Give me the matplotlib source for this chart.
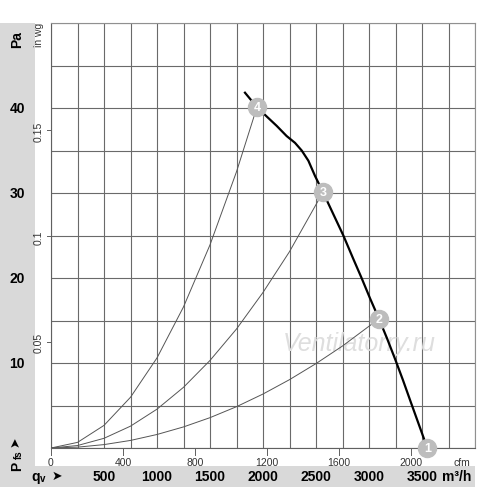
import matplotlib
matplotlib.use("Agg")
import matplotlib.pyplot as plt
from matplotlib.patches import Rectangle

# Kennlinie (q in m3/h, p in Pa)
FAN_Q = [1830, 1943, 2035, 2129, 2223, 2302, 2365, 2428, 2491, 2566,
         2660, 2758, 2850, 2930, 3010, 3094, 3170, 3245, 3320, 3400, 3475, 3550]
FAN_P = [41.8, 40.1, 39.0, 37.9, 36.7, 35.9, 35.0, 33.8, 32.0, 30.1,
         27.6, 25.0, 22.3, 20.0, 17.6, 15.2, 12.9, 10.5, 8.0, 5.2, 2.6, 0.0]

# Betriebspunkte 1..4
OP_LABELS = ["1", "2", "3", "4"]
OP_Q = [3550, 3094, 2566, 1943]
OP_P = [0.0, 15.2, 30.1, 40.1]

# Anlagenkennlinien durch die Punkte 4, 3, 2
SYS4_Q = [0, 250, 500, 750, 1000, 1250, 1500, 1750, 1943]
SYS4_P = [0, 0.66, 2.66, 5.97, 10.6, 16.6, 23.9, 32.5, 40.1]
SYS3_Q = [0, 250, 500, 750, 1000, 1250, 1500, 1750, 2000, 2250, 2566]
SYS3_P = [0, 0.29, 1.14, 2.57, 4.57, 7.14, 10.3, 14.0, 18.3, 23.1, 30.1]
SYS2_Q = [0, 250, 500, 750, 1000, 1250, 1500, 1750, 2000, 2250, 2500, 2750, 3094]
SYS2_P = [0, 0.10, 0.40, 0.89, 1.59, 2.48, 3.57, 4.86, 6.35, 8.04, 9.93, 12.0, 15.2]

# Achsbeschriftungen
PA_TICKS = [10, 20, 30, 40]
M3H_TICKS = [500, 1000, 1500, 2000, 2500, 3000, 3500]
CFM_TICKS = [0, 400, 800, 1200, 1600, 2000]
INWG_TICKS = [0.05, 0.1, 0.15]

CFM = 1.699      # m3/h pro cfm
INWG = 249.09    # Pa pro in wg

FONT = ["Liberation Sans", "DejaVu Sans"]
plt.rcParams["font.family"] = FONT
GRAY_BG = "#d9d9d9"

W, H = 500, 489
fig = plt.figure(figsize=(W / 100, H / 100), dpi=100, facecolor="white")

# Hintergrund (grau links und unten)
bg = fig.add_axes([0, 0, 1, 1])
bg.set_xlim(0, W)
bg.set_ylim(H, 0)
bg.axis("off")
bg.add_patch(Rectangle((0, 24), 35, 464, facecolor=GRAY_BG, edgecolor="none"))
bg.add_patch(Rectangle((0, 467), 475, 21, facecolor=GRAY_BG, edgecolor="none"))

ax = fig.add_axes([51 / W, 40 / H, 424 / W, 425 / H])
ax.set_xlim(0, 4000)
ax.set_ylim(0, 50)
ax.set_xticks(range(0, 4001, 250))
ax.set_yticks(range(0, 51, 5))
ax.grid(True, color="#6a6a6a", linewidth=0.8)
ax.tick_params(length=0, labelbottom=False, labelleft=False)
for s in ax.spines.values():
    s.set_color("#909090")
    s.set_linewidth(0.8)
ax.spines["bottom"].set_color("#606060")
ax.spines["left"].set_color("#606060")
ax.set_axisbelow(True)

for q, p in [(SYS4_Q, SYS4_P), (SYS3_Q, SYS3_P), (SYS2_Q, SYS2_P)]:
    ax.plot(q, p, color="#555555", linewidth=0.7, zorder=3)

ax.text(3630, 12.3, "Ventilatorry.ru", fontsize=18, style="italic",
        color="#dedede", ha="right", va="center", zorder=2)

ax.plot(FAN_Q, FAN_P, color="black", linewidth=1.6, zorder=4, clip_on=False)
ax.plot(OP_Q, OP_P, "o", markersize=13, color="#bdbdbd", zorder=5, clip_on=False)
for lab, q, p in zip(OP_LABELS, OP_Q, OP_P):
    ax.text(q, p, lab, color="white", fontsize=9, fontweight="bold",
            ha="center", va="center", zorder=6, clip_on=False)

# cfm-Beschriftung unter der Achse
for c in CFM_TICKS:
    q = c * CFM
    ax.plot([q, q], [0, -0.8], color="#606060", linewidth=0.7, clip_on=False)
    ax.text(q, -1.1, str(c), fontsize=7.5, color="#333333",
            ha="center", va="top")
ax.text(3880, -1.1, "cfm", fontsize=7.5, color="#333333", ha="center", va="top")

# in wg links an der Achse
for w in INWG_TICKS:
    p = w * INWG
    ax.plot([-40, 0], [p, p], color="#606060", linewidth=0.7, clip_on=False)
    ax.text(-70, p, f"{w:g}", fontsize=7.5, color="#333333", rotation=90,
            ha="right", va="center")
ax.text(-70, 48.7, "in wg", fontsize=7.5, color="#333333", rotation=90,
        ha="right", va="center")

# Pa im grauen Feld
to_px_y = lambda p: 449 - p * 8.5
to_px_x = lambda q: 51 + q / 250 * 26.5
for p in PA_TICKS:
    bg.text(17, to_px_y(p), str(p), fontsize=10, fontweight="bold",
            ha="center", va="center")
bg.text(17, 40, "Pa", fontsize=10, fontweight="bold", rotation=90,
        ha="center", va="center")
bg.text(17, 466, "P", fontsize=10, fontweight="bold", rotation=90,
        ha="center", va="center")
bg.text(19, 455, "fs", fontsize=7, fontweight="bold", rotation=90,
        ha="center", va="center")
bg.text(16, 442, "\u27a4", fontsize=9, rotation=90, ha="center", va="center",
        family=FONT)

# m3/h im grauen Streifen
for q in M3H_TICKS:
    bg.text(to_px_x(q), 477, str(q), fontsize=10, fontweight="bold",
            ha="center", va="center")
bg.text(457, 477, "m\u00b3/h", fontsize=10, fontweight="bold",
        ha="center", va="center")
bg.text(36, 477, "q", fontsize=10, fontweight="bold", ha="center", va="center")
bg.text(42.5, 479, "v", fontsize=7, fontweight="bold", ha="center", va="center")
bg.text(57, 477, "\u27a4", fontsize=9, ha="center", va="center", family=FONT)

fig.savefig("out.png", dpi=100, facecolor="white")
